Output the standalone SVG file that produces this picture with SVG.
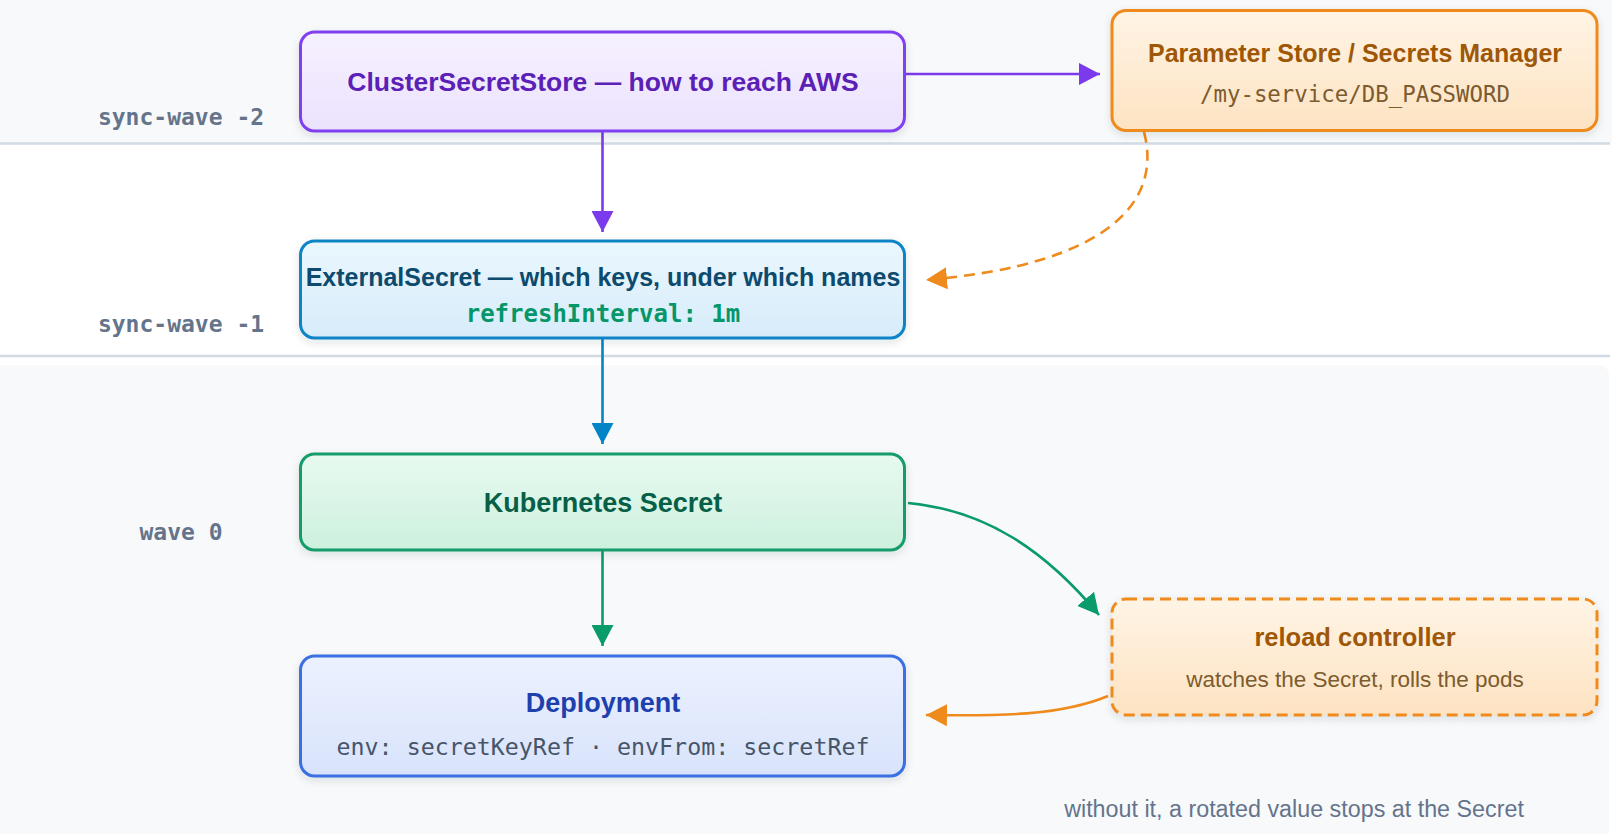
<svg xmlns="http://www.w3.org/2000/svg" width="1612" height="834" viewBox="0 0 1612 834">
<style>
.sans{font-family:"Liberation Sans",Arial,Helvetica,sans-serif}
.mono{font-family:"DejaVu Sans Mono","Liberation Mono",monospace}
.title{font-weight:700;text-anchor:middle}
.sub{text-anchor:middle}
.lane{font-family:"DejaVu Sans Mono","Liberation Mono",monospace;font-weight:700;font-size:23px;fill:#64748b;text-anchor:middle}
.box{stroke-width:3}
.conn{fill:none;stroke-width:2.6}
</style>
<defs>
<linearGradient id="gPurple" x1="0" y1="0" x2="0" y2="1"><stop offset="0" stop-color="#f6f1ff"/><stop offset="1" stop-color="#ebe2fd"/></linearGradient>
<linearGradient id="gOrange" x1="0" y1="0" x2="0" y2="1"><stop offset="0" stop-color="#fff4e5"/><stop offset="1" stop-color="#fde3c2"/></linearGradient>
<linearGradient id="gBlue" x1="0" y1="0" x2="0" y2="1"><stop offset="0" stop-color="#eaf7fe"/><stop offset="1" stop-color="#d7ecfa"/></linearGradient>
<linearGradient id="gGreen" x1="0" y1="0" x2="0" y2="1"><stop offset="0" stop-color="#e7faf0"/><stop offset="1" stop-color="#cdf0de"/></linearGradient>
<linearGradient id="gIndigo" x1="0" y1="0" x2="0" y2="1"><stop offset="0" stop-color="#ecf1fe"/><stop offset="1" stop-color="#d8e3fb"/></linearGradient>
<filter id="shadow" x="-10%" y="-20%" width="120%" height="150%"><feDropShadow dx="0" dy="3" stdDeviation="4" flood-color="#1e293b" flood-opacity="0.12"/></filter>
<marker id="aPurple" markerUnits="userSpaceOnUse" markerWidth="22" markerHeight="22" refX="21" refY="11" orient="auto"><path d="M0,0 L21,11 L0,22 z" fill="#7c3aed"/></marker>
<marker id="aBlue" markerUnits="userSpaceOnUse" markerWidth="22" markerHeight="22" refX="21" refY="11" orient="auto"><path d="M0,0 L21,11 L0,22 z" fill="#0284c7"/></marker>
<marker id="aGreen" markerUnits="userSpaceOnUse" markerWidth="22" markerHeight="22" refX="21" refY="11" orient="auto"><path d="M0,0 L21,11 L0,22 z" fill="#0a9b6a"/></marker>
<marker id="aOrange" markerUnits="userSpaceOnUse" markerWidth="22" markerHeight="22" refX="21" refY="11" orient="auto"><path d="M0,0 L21,11 L0,22 z" fill="#ef8a1c"/></marker>
</defs>

<g id="background">
<rect x="0" y="0" width="1612" height="143" fill="#f8f9fb"/>
<rect x="0" y="143" width="1612" height="214" fill="#ffffff"/>
<rect x="-12" y="365" width="1621" height="490" rx="10" fill="#f8f9fb"/>
<line x1="0" y1="143.5" x2="1610" y2="143.5" stroke="#d2dae4" stroke-width="2.5"/>
<line x1="0" y1="356" x2="1610" y2="356" stroke="#d2dae4" stroke-width="2.5"/>
</g>

<g id="lane-labels">
<text class="lane" x="181" y="125">sync-wave -2</text>
<text class="lane" x="181" y="332">sync-wave -1</text>
<text class="lane" x="181" y="540">wave 0</text>
</g>

<g id="connectors">
<path class="conn" d="M905 74 L1100 74" stroke="#7c3aed" marker-end="url(#aPurple)"/>
<path class="conn" d="M602.5 132 L602.5 232" stroke="#7c3aed" marker-end="url(#aPurple)"/>
<path class="conn" d="M1144 132 C1162 200 1112 264 926 280" stroke="#ef8a1c" stroke-dasharray="11 7" marker-end="url(#aOrange)"/>
<path class="conn" d="M602.5 339 L602.5 444" stroke="#0284c7" marker-end="url(#aBlue)"/>
<path class="conn" d="M602.5 551 L602.5 646" stroke="#0a9b6a" marker-end="url(#aGreen)"/>
<path class="conn" d="M908 503 C985 510 1045 550 1099 615" stroke="#0a9b6a" marker-end="url(#aGreen)"/>
<path class="conn" d="M1108 696 C1060 716 1000 716 926 715" stroke="#ef8a1c" marker-end="url(#aOrange)"/>
</g>

<g id="cluster-secret-store">
<rect class="box" x="300.5" y="32" width="604" height="99" rx="14" fill="url(#gPurple)" stroke="#8040ef" filter="url(#shadow)"/>
<text class="sans title" x="603" y="90.5" font-size="26.5" fill="#5b21b6">ClusterSecretStore — how to reach AWS</text>
</g>

<g id="parameter-store">
<rect class="box" x="1112" y="10.5" width="485" height="120" rx="14" fill="url(#gOrange)" stroke="#ef8a1c" filter="url(#shadow)"/>
<text class="sans title" x="1355" y="62" font-size="25" fill="#9e5706">Parameter Store / Secrets Manager</text>
<text class="mono sub" x="1355" y="102" font-size="22.4" fill="#7c5b2e">/my-service/DB_PASSWORD</text>
</g>

<g id="external-secret">
<rect class="box" x="300.5" y="241" width="604" height="97" rx="14" fill="url(#gBlue)" stroke="#0f84c6" filter="url(#shadow)"/>
<text class="sans title" x="603" y="285.5" font-size="25" fill="#0c4a6e">ExternalSecret — which keys, under which names</text>
<text class="mono title" x="603" y="322" font-size="24" fill="#059669">refreshInterval: 1m</text>
</g>

<g id="kubernetes-secret">
<rect class="box" x="300.5" y="454" width="604" height="96" rx="14" fill="url(#gGreen)" stroke="#139c6a" filter="url(#shadow)"/>
<text class="sans title" x="603" y="511.5" font-size="27" fill="#065f46">Kubernetes Secret</text>
</g>

<g id="deployment">
<rect class="box" x="300.5" y="656" width="604" height="120" rx="14" fill="url(#gIndigo)" stroke="#3b6fe2" filter="url(#shadow)"/>
<text class="sans title" x="603" y="712" font-size="27" fill="#1e40af">Deployment</text>
<text class="mono sub" x="603" y="755" font-size="23.3" fill="#475569">env: secretKeyRef · envFrom: secretRef</text>
</g>

<g id="reload-controller">
<rect class="box" x="1112" y="599" width="485" height="116" rx="14" fill="url(#gOrange)" stroke="#ef8a1c" stroke-dasharray="11 6" filter="url(#shadow)"/>
<text class="sans title" x="1355" y="646" font-size="25.5" fill="#9e5706">reload controller</text>
<text class="sans sub" x="1355" y="687" font-size="22.5" fill="#7c5b2e">watches the Secret, rolls the pods</text>
</g>

<g id="footnote">
<text class="sans" x="1294" y="817" font-size="23.3" fill="#64748b" text-anchor="middle">without it, a rotated value stops at the Secret</text>
</g>
</svg>
